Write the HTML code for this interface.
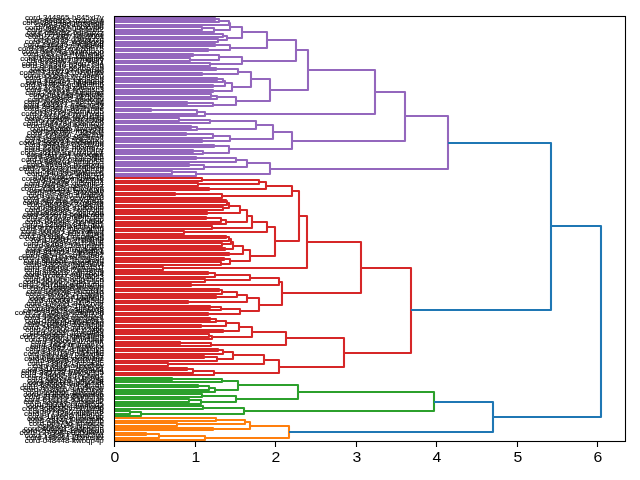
<!DOCTYPE html>
<html><head><meta charset="utf-8"><title>dendrogram</title>
<style>
html,body{margin:0;padding:0;background:#fff;}
svg{display:block;will-change:transform;}
.g{filter:grayscale(1);}
text{font-family:"Liberation Sans",sans-serif;fill:#000;}
.l{font-size:7px;text-anchor:end;stroke:#000;stroke-width:0.1;}
.t{font-size:14.6px;text-anchor:middle;}
.k path{fill:none;stroke-width:2.08;stroke-linejoin:round;stroke-linecap:butt;}
</style></head>
<body>
<svg width="640" height="480" viewBox="0 0 640 480">
<rect x="0" y="0" width="640" height="480" fill="#fff"/>
<g class="l g">
<text x="103.8" y="442.62" textLength="79.1" lengthAdjust="spacingAndGlyphs">cord-048448-ltwbqp4p</text>
<text x="103.8" y="440.22" textLength="77.5" lengthAdjust="spacingAndGlyphs">cord-199351-j3znhsax</text>
<text x="103.8" y="437.82" textLength="79.0" lengthAdjust="spacingAndGlyphs">cord-134227-ppa62iwt</text>
<text x="103.8" y="435.42" textLength="84.2" lengthAdjust="spacingAndGlyphs">cord-127308-p8qpdkww</text>
<text x="103.8" y="433.02" textLength="81.7" lengthAdjust="spacingAndGlyphs">cord-266934-12v626dn</text>
<text x="103.8" y="430.62" textLength="80.0" lengthAdjust="spacingAndGlyphs">cord-469501-scdphcun</text>
<text x="103.8" y="428.22" textLength="65.5" lengthAdjust="spacingAndGlyphs">cord-2634-jyc9tlo5</text>
<text x="103.8" y="425.82" textLength="74.9" lengthAdjust="spacingAndGlyphs">cord-060736-lshroczc</text>
<text x="103.8" y="423.42" textLength="75.2" lengthAdjust="spacingAndGlyphs">cord-331413-swz3irlb</text>
<text x="103.8" y="421.02" textLength="76.9" lengthAdjust="spacingAndGlyphs">cord-24061-loumge9x</text>
<text x="103.8" y="418.62" textLength="75.7" lengthAdjust="spacingAndGlyphs">cord-197958-ih6f8ryb</text>
<text x="103.8" y="416.22" textLength="79.7" lengthAdjust="spacingAndGlyphs">cord-377325-ynt46no2</text>
<text x="103.8" y="413.82" textLength="75.4" lengthAdjust="spacingAndGlyphs">cord-074536-vjpifmr8</text>
<text x="103.8" y="411.42" textLength="81.9" lengthAdjust="spacingAndGlyphs">cord-368515-vzeh1w9p</text>
<text x="103.8" y="409.02" textLength="75.7" lengthAdjust="spacingAndGlyphs">cord-369364-bpflkwyl</text>
<text x="103.8" y="406.62" textLength="77.7" lengthAdjust="spacingAndGlyphs">cord-933302-lua3t0q5</text>
<text x="103.8" y="404.22" textLength="80.2" lengthAdjust="spacingAndGlyphs">cord-120419-2ybdozc2</text>
<text x="103.8" y="401.82" textLength="79.4" lengthAdjust="spacingAndGlyphs">cord-810112-531daujp</text>
<text x="103.8" y="399.42" textLength="79.0" lengthAdjust="spacingAndGlyphs">cord-219003-86jm0hjk</text>
<text x="103.8" y="397.02" textLength="80.6" lengthAdjust="spacingAndGlyphs">cord-083836-wc0aat9a</text>
<text x="103.8" y="394.62" textLength="78.1" lengthAdjust="spacingAndGlyphs">cord-125551-6lhsv60k</text>
<text x="103.8" y="392.22" textLength="80.8" lengthAdjust="spacingAndGlyphs">cord-318316-9jm05z2v</text>
<text x="103.8" y="389.82" textLength="83.7" lengthAdjust="spacingAndGlyphs">cord-397484-771y3wcw</text>
<text x="103.8" y="387.42" textLength="81.3" lengthAdjust="spacingAndGlyphs">cord-696931-vupun1ab</text>
<text x="103.8" y="385.02" textLength="75.7" lengthAdjust="spacingAndGlyphs">cord-256889-a5y2tl8t</text>
<text x="103.8" y="382.62" textLength="76.8" lengthAdjust="spacingAndGlyphs">cord-689176-j0rhy23s</text>
<text x="103.8" y="380.22" textLength="76.4" lengthAdjust="spacingAndGlyphs">cord-265523-r7g4ri0g</text>
<text x="103.8" y="377.82" textLength="83.0" lengthAdjust="spacingAndGlyphs">cord-234002-2d7y2wg7</text>
<text x="103.8" y="375.42" textLength="82.7" lengthAdjust="spacingAndGlyphs">cord-335338-awkpu9u5</text>
<text x="103.8" y="373.02" textLength="82.4" lengthAdjust="spacingAndGlyphs">cord-384799-m9x39t44</text>
<text x="103.8" y="370.62" textLength="76.4" lengthAdjust="spacingAndGlyphs">cord-109841-2h6is0sr</text>
<text x="103.8" y="368.22" textLength="71.2" lengthAdjust="spacingAndGlyphs">cord-1418-a1pcshtw</text>
<text x="103.8" y="365.82" textLength="76.4" lengthAdjust="spacingAndGlyphs">cord-338032-3cccrr8c</text>
<text x="103.8" y="363.42" textLength="74.5" lengthAdjust="spacingAndGlyphs">cord-05825-p1axg7le</text>
<text x="103.8" y="361.02" textLength="79.6" lengthAdjust="spacingAndGlyphs">cord-066998-xvzpv1uz</text>
<text x="103.8" y="358.62" textLength="75.2" lengthAdjust="spacingAndGlyphs">cord-077984-zi8ooj3z</text>
<text x="103.8" y="356.22" textLength="80.2" lengthAdjust="spacingAndGlyphs">cord-380013-7p2gwglc</text>
<text x="103.8" y="353.82" textLength="74.5" lengthAdjust="spacingAndGlyphs">cord-177808-ibpfolkg</text>
<text x="103.8" y="351.42" textLength="78.4" lengthAdjust="spacingAndGlyphs">cord-90587-7ehwpuyd</text>
<text x="103.8" y="349.02" textLength="73.8" lengthAdjust="spacingAndGlyphs">cord-355471-irplxckx</text>
<text x="103.8" y="346.62" textLength="73.4" lengthAdjust="spacingAndGlyphs">cord-7423-imtmae70</text>
<text x="103.8" y="344.22" textLength="72.7" lengthAdjust="spacingAndGlyphs">cord-156063-il7olmff</text>
<text x="103.8" y="341.82" textLength="79.1" lengthAdjust="spacingAndGlyphs">cord-046204-26v6i2a7</text>
<text x="103.8" y="339.42" textLength="84.1" lengthAdjust="spacingAndGlyphs">cord-280387-hqmx1qpp</text>
<text x="103.8" y="337.02" textLength="81.1" lengthAdjust="spacingAndGlyphs">cord-246632-vkq5gu34</text>
<text x="103.8" y="334.62" textLength="74.1" lengthAdjust="spacingAndGlyphs">cord-755371-jvodl29j</text>
<text x="103.8" y="332.22" textLength="78.6" lengthAdjust="spacingAndGlyphs">cord-207302-oexi2gyb</text>
<text x="103.8" y="329.82" textLength="80.7" lengthAdjust="spacingAndGlyphs">cord-249971-qyhx4yk2</text>
<text x="103.8" y="327.42" textLength="79.5" lengthAdjust="spacingAndGlyphs">cord-204508-dq64dgju</text>
<text x="103.8" y="325.02" textLength="76.1" lengthAdjust="spacingAndGlyphs">cord-196114-f6zl2kxp</text>
<text x="103.8" y="322.62" textLength="78.7" lengthAdjust="spacingAndGlyphs">cord-199240-yfbdc9x3</text>
<text x="103.8" y="320.22" textLength="79.9" lengthAdjust="spacingAndGlyphs">cord-590548-gcn5nqr1</text>
<text x="103.8" y="317.82" textLength="78.9" lengthAdjust="spacingAndGlyphs">cord-145995-pc5xgx3f</text>
<text x="103.8" y="315.42" textLength="89.1" lengthAdjust="spacingAndGlyphs">cord-251369-7u46mmnm</text>
<text x="103.8" y="313.02" textLength="80.8" lengthAdjust="spacingAndGlyphs">cord-087633-z3nqay38</text>
<text x="103.8" y="310.62" textLength="76.0" lengthAdjust="spacingAndGlyphs">cord-054462-sjjr95w8</text>
<text x="103.8" y="308.22" textLength="79.3" lengthAdjust="spacingAndGlyphs">cord-995902-t1pyyyo2</text>
<text x="103.8" y="305.82" textLength="77.5" lengthAdjust="spacingAndGlyphs">cord-177221-04y2rvsr</text>
<text x="103.8" y="303.42" textLength="75.9" lengthAdjust="spacingAndGlyphs">cord-400000-fyttk5du</text>
<text x="103.8" y="301.02" textLength="74.0" lengthAdjust="spacingAndGlyphs">cord-704937-ldxjfs95</text>
<text x="103.8" y="298.62" textLength="75.1" lengthAdjust="spacingAndGlyphs">cord-11732-a1aahfnh</text>
<text x="103.8" y="296.22" textLength="78.2" lengthAdjust="spacingAndGlyphs">cord-980169-z2eayj40</text>
<text x="103.8" y="293.82" textLength="77.3" lengthAdjust="spacingAndGlyphs">cord-105248-tl0cub1d</text>
<text x="103.8" y="291.42" textLength="73.9" lengthAdjust="spacingAndGlyphs">cord-908896-fnc3lglc</text>
<text x="103.8" y="289.02" textLength="81.2" lengthAdjust="spacingAndGlyphs">cord-291068-8dztgacm</text>
<text x="103.8" y="286.62" textLength="85.3" lengthAdjust="spacingAndGlyphs">cord-245765-6wn5hvmu</text>
<text x="103.8" y="284.22" textLength="80.9" lengthAdjust="spacingAndGlyphs">cord-251557-9ns1v1q9</text>
<text x="103.8" y="281.82" textLength="78.5" lengthAdjust="spacingAndGlyphs">cord-061250-vg645jcn</text>
<text x="103.8" y="279.42" textLength="80.5" lengthAdjust="spacingAndGlyphs">cord-107727-8aku35s3</text>
<text x="103.8" y="277.02" textLength="79.4" lengthAdjust="spacingAndGlyphs">cord-373817-h9hq0oi4</text>
<text x="103.8" y="274.62" textLength="77.7" lengthAdjust="spacingAndGlyphs">cord-919232-wjnz8kf9</text>
<text x="103.8" y="272.22" textLength="79.6" lengthAdjust="spacingAndGlyphs">cord-246019-i7waanes</text>
<text x="103.8" y="269.82" textLength="79.6" lengthAdjust="spacingAndGlyphs">cord-246462-wptu451f</text>
<text x="103.8" y="267.42" textLength="77.6" lengthAdjust="spacingAndGlyphs">cord-132213-jw03s9i4</text>
<text x="103.8" y="265.02" textLength="80.5" lengthAdjust="spacingAndGlyphs">cord-366001-wqgotz7o</text>
<text x="103.8" y="262.62" textLength="80.0" lengthAdjust="spacingAndGlyphs">cord-805856-3nlz6hwd</text>
<text x="103.8" y="260.22" textLength="85.3" lengthAdjust="spacingAndGlyphs">cord-106710-km7wg38n</text>
<text x="103.8" y="257.82" textLength="81.7" lengthAdjust="spacingAndGlyphs">cord-365416-kq143b07</text>
<text x="103.8" y="255.42" textLength="78.3" lengthAdjust="spacingAndGlyphs">cord-847024-zap10ool</text>
<text x="103.8" y="253.02" textLength="78.5" lengthAdjust="spacingAndGlyphs">cord-044643-rny3caz1</text>
<text x="103.8" y="250.62" textLength="77.2" lengthAdjust="spacingAndGlyphs">cord-8523-umqgkgmy</text>
<text x="103.8" y="248.22" textLength="76.2" lengthAdjust="spacingAndGlyphs">cord-149325-6mrtjjpu</text>
<text x="103.8" y="245.82" textLength="80.4" lengthAdjust="spacingAndGlyphs">cord-082637-wu7j29uk</text>
<text x="103.8" y="243.42" textLength="72.9" lengthAdjust="spacingAndGlyphs">cord-15516-zf1bxntq</text>
<text x="103.8" y="241.02" textLength="78.7" lengthAdjust="spacingAndGlyphs">cord-179584-sno5khf5</text>
<text x="103.8" y="238.62" textLength="84.7" lengthAdjust="spacingAndGlyphs">cord-093194-7msdaw5g</text>
<text x="103.8" y="236.22" textLength="83.3" lengthAdjust="spacingAndGlyphs">cord-055987-b0b17gw4</text>
<text x="103.8" y="233.82" textLength="82.2" lengthAdjust="spacingAndGlyphs">cord-101471-suv1qbwq</text>
<text x="103.8" y="231.42" textLength="83.9" lengthAdjust="spacingAndGlyphs">cord-202010-m8eygpnn</text>
<text x="103.8" y="229.02" textLength="77.3" lengthAdjust="spacingAndGlyphs">cord-143699-jcbhgkwj</text>
<text x="103.8" y="226.62" textLength="81.5" lengthAdjust="spacingAndGlyphs">cord-132536-y8447ab1</text>
<text x="103.8" y="224.22" textLength="78.7" lengthAdjust="spacingAndGlyphs">cord-154048-7qsnf6ak</text>
<text x="103.8" y="221.82" textLength="77.2" lengthAdjust="spacingAndGlyphs">cord-314078-3f2logqo</text>
<text x="103.8" y="219.42" textLength="81.8" lengthAdjust="spacingAndGlyphs">cord-232010-mj0m760l</text>
<text x="103.8" y="217.02" textLength="80.8" lengthAdjust="spacingAndGlyphs">cord-859979-5pkacd8b</text>
<text x="103.8" y="214.62" textLength="76.9" lengthAdjust="spacingAndGlyphs">cord-972203-2gejrzqa</text>
<text x="103.8" y="212.22" textLength="79.0" lengthAdjust="spacingAndGlyphs">cord-000009-7w8o0tin</text>
<text x="103.8" y="209.82" textLength="74.0" lengthAdjust="spacingAndGlyphs">cord-50032-s106xdi5</text>
<text x="103.8" y="207.42" textLength="76.9" lengthAdjust="spacingAndGlyphs">cord-659255-2olds7qt</text>
<text x="103.8" y="205.02" textLength="81.0" lengthAdjust="spacingAndGlyphs">cord-262418-297gq8zx</text>
<text x="103.8" y="202.62" textLength="79.7" lengthAdjust="spacingAndGlyphs">cord-487394-puxcmlzk</text>
<text x="103.8" y="200.22" textLength="80.9" lengthAdjust="spacingAndGlyphs">cord-191327-oewqkur3</text>
<text x="103.8" y="197.82" textLength="75.3" lengthAdjust="spacingAndGlyphs">cord-117880-fu6fd6yi</text>
<text x="103.8" y="195.42" textLength="77.4" lengthAdjust="spacingAndGlyphs">cord-977379-3l4zgeiw</text>
<text x="103.8" y="193.02" textLength="74.5" lengthAdjust="spacingAndGlyphs">cord-46493-1yx262lb</text>
<text x="103.8" y="190.62" textLength="82.9" lengthAdjust="spacingAndGlyphs">cord-265123-mc9cuhy3</text>
<text x="103.8" y="188.22" textLength="79.7" lengthAdjust="spacingAndGlyphs">cord-096192-ozm4lncz</text>
<text x="103.8" y="185.82" textLength="79.3" lengthAdjust="spacingAndGlyphs">cord-025428-gy5mtic4</text>
<text x="103.8" y="183.42" textLength="73.9" lengthAdjust="spacingAndGlyphs">cord-116957-iad9jzfx</text>
<text x="103.8" y="181.02" textLength="82.0" lengthAdjust="spacingAndGlyphs">cord-060495-xmzzna1k</text>
<text x="103.8" y="178.62" textLength="70.5" lengthAdjust="spacingAndGlyphs">cord-71616-9j8fkzr0</text>
<text x="103.8" y="176.22" textLength="76.8" lengthAdjust="spacingAndGlyphs">cord-340930-0xltenc5</text>
<text x="103.8" y="173.82" textLength="79.4" lengthAdjust="spacingAndGlyphs">cord-582794-agwncxvj</text>
<text x="103.8" y="171.42" textLength="84.7" lengthAdjust="spacingAndGlyphs">cord-701073-xcsohdmm</text>
<text x="103.8" y="169.02" textLength="80.9" lengthAdjust="spacingAndGlyphs">cord-132332-uezqp67o</text>
<text x="103.8" y="166.62" textLength="76.7" lengthAdjust="spacingAndGlyphs">cord-267938-hssrrxqq</text>
<text x="103.8" y="164.22" textLength="77.6" lengthAdjust="spacingAndGlyphs">cord-885261-qfng052l</text>
<text x="103.8" y="161.82" textLength="82.5" lengthAdjust="spacingAndGlyphs">cord-093557-6mzkp0ec</text>
<text x="103.8" y="159.42" textLength="76.5" lengthAdjust="spacingAndGlyphs">cord-391031-yq15i5la</text>
<text x="103.8" y="157.02" textLength="77.2" lengthAdjust="spacingAndGlyphs">cord-007104-vxrvcqur</text>
<text x="103.8" y="154.62" textLength="83.3" lengthAdjust="spacingAndGlyphs">cord-361073-mux4b0pz</text>
<text x="103.8" y="152.22" textLength="79.3" lengthAdjust="spacingAndGlyphs">cord-065572-rfw0h9ny</text>
<text x="103.8" y="149.82" textLength="79.2" lengthAdjust="spacingAndGlyphs">cord-226002-hfkvml73</text>
<text x="103.8" y="147.42" textLength="78.7" lengthAdjust="spacingAndGlyphs">cord-344197-o50djzdn</text>
<text x="103.8" y="145.02" textLength="84.7" lengthAdjust="spacingAndGlyphs">cord-256563-6en5mtmo</text>
<text x="103.8" y="142.62" textLength="79.2" lengthAdjust="spacingAndGlyphs">cord-183064-50fqo1xo</text>
<text x="103.8" y="140.22" textLength="78.6" lengthAdjust="spacingAndGlyphs">cord-048936-a8t3rup4</text>
<text x="103.8" y="137.82" textLength="77.2" lengthAdjust="spacingAndGlyphs">cord-171800-octiq71h</text>
<text x="103.8" y="135.42" textLength="76.9" lengthAdjust="spacingAndGlyphs">cord-306797-732pgojj</text>
<text x="103.8" y="133.02" textLength="71.3" lengthAdjust="spacingAndGlyphs">cord-52883-frpyz21t</text>
<text x="103.8" y="130.62" textLength="73.9" lengthAdjust="spacingAndGlyphs">cord-30666-7nyrvd5r</text>
<text x="103.8" y="128.22" textLength="77.0" lengthAdjust="spacingAndGlyphs">cord-057628-lv9fupxq</text>
<text x="103.8" y="125.82" textLength="80.9" lengthAdjust="spacingAndGlyphs">cord-463478-hkken659</text>
<text x="103.8" y="123.42" textLength="76.4" lengthAdjust="spacingAndGlyphs">cord-792470-9ik40vst</text>
<text x="103.8" y="121.02" textLength="79.3" lengthAdjust="spacingAndGlyphs">cord-223468-1bz99nfd</text>
<text x="103.8" y="118.62" textLength="77.7" lengthAdjust="spacingAndGlyphs">cord-313044-yex1rdrg</text>
<text x="103.8" y="116.22" textLength="82.5" lengthAdjust="spacingAndGlyphs">cord-120776-0wyuhvau</text>
<text x="103.8" y="113.82" textLength="72.8" lengthAdjust="spacingAndGlyphs">cord-12845-i6rhxo55</text>
<text x="103.8" y="111.42" textLength="79.9" lengthAdjust="spacingAndGlyphs">cord-383417-e62rynne</text>
<text x="103.8" y="109.02" textLength="80.4" lengthAdjust="spacingAndGlyphs">cord-299207-gn5s7s33</text>
<text x="103.8" y="106.62" textLength="79.9" lengthAdjust="spacingAndGlyphs">cord-433377-e4scmejv</text>
<text x="103.8" y="104.22" textLength="79.8" lengthAdjust="spacingAndGlyphs">cord-300837-e68f7e4q</text>
<text x="103.8" y="101.82" textLength="76.3" lengthAdjust="spacingAndGlyphs">cord-020868-ofbcixgy</text>
<text x="103.8" y="99.42" textLength="70.3" lengthAdjust="spacingAndGlyphs">cord-06044-of7jyu5j</text>
<text x="103.8" y="97.02" textLength="74.7" lengthAdjust="spacingAndGlyphs">cord-561748-p6afqfjz</text>
<text x="103.8" y="94.62" textLength="78.5" lengthAdjust="spacingAndGlyphs">cord-247045-9upctnwl</text>
<text x="103.8" y="92.22" textLength="77.5" lengthAdjust="spacingAndGlyphs">cord-002014-fy6spsc3</text>
<text x="103.8" y="89.82" textLength="79.0" lengthAdjust="spacingAndGlyphs">cord-371678-z6tnovmi</text>
<text x="103.8" y="87.42" textLength="83.6" lengthAdjust="spacingAndGlyphs">cord-047824-qcab69m6</text>
<text x="103.8" y="85.02" textLength="78.1" lengthAdjust="spacingAndGlyphs">cord-186492-hkqdlmtt</text>
<text x="103.8" y="82.62" textLength="77.8" lengthAdjust="spacingAndGlyphs">cord-402614-fqfoeqh3</text>
<text x="103.8" y="80.22" textLength="78.8" lengthAdjust="spacingAndGlyphs">cord-144024-1qzj865u</text>
<text x="103.8" y="77.82" textLength="80.2" lengthAdjust="spacingAndGlyphs">cord-050587-yv7s6eho</text>
<text x="103.8" y="75.42" textLength="84.2" lengthAdjust="spacingAndGlyphs">cord-173167-k16zv0mw</text>
<text x="103.8" y="73.02" textLength="74.9" lengthAdjust="spacingAndGlyphs">cord-126167-1enthjxj</text>
<text x="103.8" y="70.62" textLength="73.2" lengthAdjust="spacingAndGlyphs">cord-8347-6846p7q9</text>
<text x="103.8" y="68.22" textLength="81.9" lengthAdjust="spacingAndGlyphs">cord-803340-629be2u6</text>
<text x="103.8" y="65.82" textLength="82.0" lengthAdjust="spacingAndGlyphs">cord-372902-h9du7794</text>
<text x="103.8" y="63.42" textLength="77.1" lengthAdjust="spacingAndGlyphs">cord-254862-3706i8j7</text>
<text x="103.8" y="61.02" textLength="83.6" lengthAdjust="spacingAndGlyphs">cord-182001-1mnbqns6</text>
<text x="103.8" y="58.62" textLength="75.5" lengthAdjust="spacingAndGlyphs">cord-516761-kibj3j4w</text>
<text x="103.8" y="56.22" textLength="80.9" lengthAdjust="spacingAndGlyphs">cord-353799-4wfhym4l</text>
<text x="103.8" y="53.82" textLength="82.0" lengthAdjust="spacingAndGlyphs">cord-004743-w2wxfogo</text>
<text x="103.8" y="51.42" textLength="85.8" lengthAdjust="spacingAndGlyphs">cord-252538-ompzom75</text>
<text x="103.8" y="49.02" textLength="75.6" lengthAdjust="spacingAndGlyphs">cord-115472-7xj8b7tf</text>
<text x="103.8" y="46.62" textLength="80.3" lengthAdjust="spacingAndGlyphs">cord-396245-4hh5344t</text>
<text x="103.8" y="44.22" textLength="79.1" lengthAdjust="spacingAndGlyphs">cord-203137-dgaj8gxb</text>
<text x="103.8" y="41.82" textLength="70.1" lengthAdjust="spacingAndGlyphs">cord-9528-d39zzzzg</text>
<text x="103.8" y="39.42" textLength="75.8" lengthAdjust="spacingAndGlyphs">cord-223307-lqsaj08x</text>
<text x="103.8" y="37.02" textLength="78.8" lengthAdjust="spacingAndGlyphs">cord-127684-19r0wyoj</text>
<text x="103.8" y="34.62" textLength="77.2" lengthAdjust="spacingAndGlyphs">cord-650752-5dnsipzz</text>
<text x="103.8" y="32.22" textLength="76.5" lengthAdjust="spacingAndGlyphs">cord-389555-efr4edt2</text>
<text x="103.8" y="29.82" textLength="78.9" lengthAdjust="spacingAndGlyphs">cord-048757-h60kvj50</text>
<text x="103.8" y="27.42" textLength="68.7" lengthAdjust="spacingAndGlyphs">cord-3786-u33xtplp</text>
<text x="103.8" y="25.02" textLength="81.4" lengthAdjust="spacingAndGlyphs">cord-281948-lgmxg9ed</text>
<text x="103.8" y="22.62" textLength="77.2" lengthAdjust="spacingAndGlyphs">cord-860913-dzdoc9is</text>
<text x="103.8" y="20.22" textLength="78.9" lengthAdjust="spacingAndGlyphs">cord-344865-h845xl7y</text>
</g>
<g class="k">
<path stroke="#ff7f0e" d="M114.5 418H216V421H114.5M114.5 423H177V426H114.5M216 420H245V424H177M114.5 428H213V430H114.5M245 422H250V429H213M114.5 433H146V435H114.5M146 434H159V438H114.5M159 436H205V440H114.5M250 426H289V438H205"/>
<path stroke="#2ca02c" d="M114.5 378H172V380H114.5M172 379H222V382H114.5M114.5 385H198V387H114.5M198 386H209V390H114.5M209 388H215V392H114.5M222 381H238V390H215M114.5 394H202V397H114.5M114.5 399H189V402H114.5M189 400H201V404H114.5M202 396H236V402H201M238 385H298V399H236M114.5 406H203V409H114.5M114.5 411H130V414H114.5M130 412H141V416H114.5M203 408H244V414H141M298 392H434V411H244"/>
<path stroke="#d62728" d="M114.5 178H202V181H114.5M114.5 183H198V186H114.5M202 180H259V184H198M114.5 188H209V190H114.5M259 182H266V189H209M114.5 193H175V195H114.5M175 194H222V198H114.5M266 186H292V196H222M114.5 200H226V202H114.5M226 201H227V205H114.5M114.5 207H223V210H114.5M227 203H229V208H223M114.5 212H207V214H114.5M229 206H240V213H207M114.5 217H206V219H114.5M206 218H221V222H114.5M221 220H226V224H114.5M240 210H247V222H226M114.5 226H212V229H114.5M247 216H252V228H212M114.5 231H184V234H114.5M252 222H267V232H184M114.5 236H226V238H114.5M226 237H229V241H114.5M114.5 243H222V246H114.5M229 239H231V244H222M114.5 248H225V250H114.5M231 242H233V249H225M114.5 253H229V255H114.5M233 246H243V254H229M114.5 258H224V260H114.5M114.5 262H221V265H114.5M224 259H230V264H221M243 250H250V261H230M267 227H275V256H250M292 191H299V241H275M114.5 267H163V270H114.5M299 216H307V268H163M114.5 272H208V274H114.5M208 273H215V277H114.5M114.5 279H205V282H114.5M215 275H250V280H205M114.5 284H191V286H114.5M250 278H279V285H191M114.5 289H219V291H114.5M219 290H222V294H114.5M114.5 296H216V298H114.5M222 292H237V297H216M114.5 301H188V303H114.5M237 295H247V302H188M114.5 306H210V308H114.5M210 307H221V310H114.5M114.5 313H208V315H114.5M221 309H240V314H208M247 298H259V311H240M279 282H282V305H259M307 242H361V293H282M114.5 318H210V320H114.5M210 319H216V322H114.5M114.5 325H201V327H114.5M216 321H226V326H201M114.5 330H223V332H114.5M226 323H239V331H223M114.5 334H209V337H114.5M209 336H212V339H114.5M239 327H252V337H212M114.5 342H180V344H114.5M180 343H211V346H114.5M252 332H286V345H211M114.5 349H218V351H114.5M218 350H223V354H114.5M114.5 356H204V358H114.5M204 357H217V361H114.5M223 352H233V359H217M114.5 363H168V366H114.5M233 355H264V364H168M114.5 368H187V370H114.5M187 369H193V373H114.5M193 371H214V375H114.5M264 360H279V373H214M286 338H344V367H279M361 268H411V353H344"/>
<path stroke="#9467bd" d="M114.5 18H215V20H114.5M215 19H219V22H114.5M219 21H229V25H114.5M114.5 27H202V30H114.5M202 28H214V32H114.5M229 23H230V30H214M114.5 34H223V37H114.5M114.5 39H218V42H114.5M223 36H227V40H218M230 27H242V38H227M114.5 44H215V46H114.5M114.5 49H208V51H114.5M215 45H230V50H208M242 32H267V48H230M114.5 54H193V56H114.5M114.5 58H190V61H114.5M193 55H219V60H190M114.5 63H210V66H114.5M219 57H242V64H210M267 40H296V61H242M114.5 68H216V70H114.5M114.5 73H202V75H114.5M216 69H238V74H202M114.5 78H217V80H114.5M217 79H223V82H114.5M114.5 85H213V87H114.5M223 81H225V86H213M114.5 90H213V92H114.5M225 83H232V91H213M238 72H251V87H232M114.5 94H211V97H114.5M211 96H217V99H114.5M114.5 102H187V104H114.5M187 103H213V106H114.5M217 97H236V105H213M251 79H270V101H236M296 50H308V90H270M114.5 109H151V111H114.5M151 110H197V114H114.5M197 112H205V116H114.5M308 70H375V114H205M114.5 118H179V121H114.5M179 120H210V123H114.5M114.5 126H191V128H114.5M191 127H197V130H114.5M210 121H256V129H197M114.5 133H186V135H114.5M186 134H213V138H114.5M114.5 140H202V142H114.5M213 136H230V141H202M256 125H273V139H230M114.5 145H214V147H114.5M114.5 150H193V152H114.5M193 151H203V154H114.5M214 146H229V153H203M273 132H292V149H229M375 92H405V141H292M114.5 157H196V159H114.5M196 158H236V162H114.5M114.5 164H189V166H114.5M189 165H204V169H114.5M236 160H247V167H204M114.5 171H172V174H114.5M172 172H196V176H114.5M247 163H270V174H196M405 116H448V169H270"/>
<path stroke="#1f77b4" d="M448 143H551V310H411M434 402H493V432H289M551 226H601V417H493"/>
</g>
<rect x="114.5" y="16.5" width="511" height="425" fill="none" stroke="#000" stroke-width="1.1"/>
<path d="M114.5 442V446.9M195.5 442V446.9M275.5 442V446.9M356.5 442V446.9M436.5 442V446.9M517.5 442V446.9M597.5 442V446.9" stroke="#000" stroke-width="1.1" fill="none"/>
<g class="t g">
<text x="114.8" y="462.3" textLength="8.8" lengthAdjust="spacingAndGlyphs">0</text>
<text x="195.8" y="462.3" textLength="8.8" lengthAdjust="spacingAndGlyphs">1</text>
<text x="275.8" y="462.3" textLength="8.8" lengthAdjust="spacingAndGlyphs">2</text>
<text x="356.8" y="462.3" textLength="8.8" lengthAdjust="spacingAndGlyphs">3</text>
<text x="436.8" y="462.3" textLength="8.8" lengthAdjust="spacingAndGlyphs">4</text>
<text x="517.8" y="462.3" textLength="8.8" lengthAdjust="spacingAndGlyphs">5</text>
<text x="597.8" y="462.3" textLength="8.8" lengthAdjust="spacingAndGlyphs">6</text>
</g>
</svg>
</body></html>
